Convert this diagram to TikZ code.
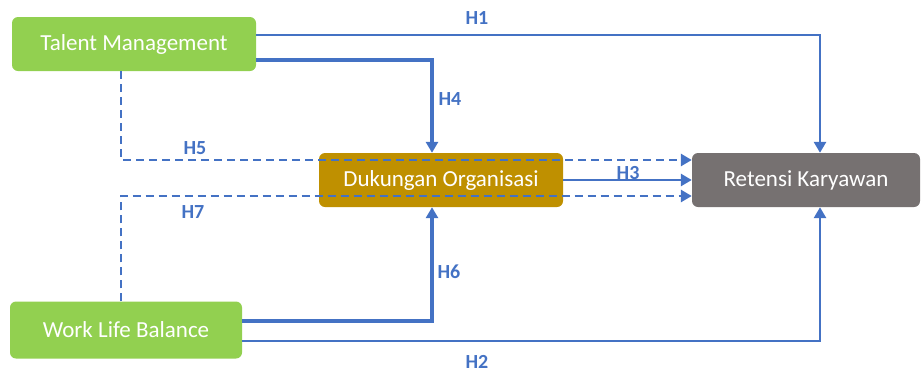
\documentclass[tikz,border=0pt]{standalone}
\usepackage{fontspec}
\setmainfont{Carlito}
\usetikzlibrary{arrows.meta}
\definecolor{lblue}{HTML}{4472C4}
\definecolor{lgreen}{HTML}{92D050}
\definecolor{lgold}{HTML}{BF9000}
\definecolor{lgrey}{HTML}{767171}
\tikzset{
  box/.style={rectangle, rounded corners=6pt, inner sep=0pt, text=white,
    font=\fontsize{23}{26}\selectfont, minimum height=54pt},
  conn/.style={draw=lblue, line width=2.8pt, -{Triangle[length=11pt,width=12pt]}},
  dconn/.style={conn, dash pattern=on 8pt off 5pt},
  hlabel/.style={text=lblue, font=\fontsize{20}{23}\selectfont\bfseries}
}
\begin{document}
\begin{tikzpicture}[x=1pt,y=-1pt]
\useasboundingbox (0,0) rectangle (923,373);
\node[box, fill=lgreen, minimum width=244pt] (TM) at (134,44) {Talent Management};
\node[box, fill=lgreen, minimum width=232pt, minimum height=57pt] (WLB) at (126,330) {Work Life Balance};
\node[box, fill=lgold, minimum width=244pt] (DO) at (441,180) {Dukungan Organisasi};
\node[box, fill=lgrey, minimum width=228pt] (RK) at (806,180) {Retensi Karyawan};

\draw[conn] ([yshift=9pt]TM.east) -| ([xshift=14pt]RK.north);
\draw[conn, line width=3.4pt] ([yshift=-16pt]TM.east) -| ([xshift=-9pt]DO.north);
\draw[dconn] ([xshift=-13pt]TM.south) |- ([yshift=20pt]RK.west);
\draw[conn] (DO.east) -- (RK.west);
\draw[dconn] ([xshift=-5pt]WLB.north) |- ([yshift=-16pt]RK.west);
\draw[conn, line width=3.4pt] ([yshift=9pt]WLB.east) -| ([xshift=-9pt]DO.south);
\draw[conn] ([yshift=-11pt]WLB.east) -| ([xshift=14pt]RK.south);

\node[hlabel] (l1) at (477,18) {H1};
\node[hlabel] (l4) at (450,99) {H4};
\node[hlabel] (l5) at (195,148) {H5};
\node[hlabel] (l3) at (628,173) {H3};
\node[hlabel] (l7) at (193,212) {H7};
\node[hlabel] (l6) at (449,272) {H6};
\node[hlabel] (l2) at (477,362) {H2};
\end{tikzpicture}
\end{document}
